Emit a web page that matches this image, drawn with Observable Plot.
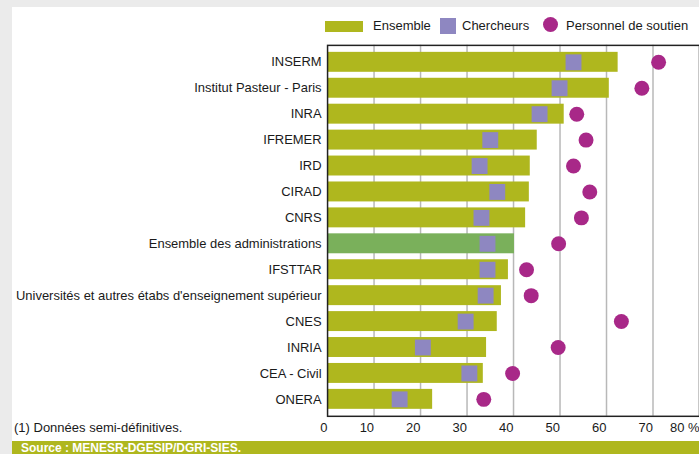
<!DOCTYPE html>
<html>
<head>
<meta charset="utf-8">
<script src="https://cdn.jsdelivr.net/npm/d3@7"></script>
<script src="https://cdn.jsdelivr.net/npm/@observablehq/plot@0.6"></script>
<style>
  html, body { margin: 0; padding: 0; }
  body { width: 699px; height: 454px; overflow: hidden; background: #ebebeb; position: relative;
         font-family: "Liberation Sans", Arial, sans-serif; color: #1a1a1a; }
  #panel { position: absolute; left: 12px; top: 7px; right: 0; bottom: 0; background: #fff; }
  #chart { position: absolute; left: 0; top: 0; }
  #chart svg { background: transparent; overflow: visible; }
  .lg { position: absolute; font-size: 13px; line-height: 16px; top: 18px; white-space: nowrap; }
  .sw { position: absolute; }
  #note { position: absolute; left: 14px; top: 420px; font-size: 13px; line-height: 16px; }
  #source { position: absolute; left: 12px; right: 0; top: 441px; height: 13px; background: #afb71e;
            color: #fff; font-weight: bold; font-size: 12px; line-height: 15px; padding-left: 9px; white-space: nowrap; }
</style>
</head>
<body>
<div id="panel"></div>
<div id="chart"></div>
<div class="sw" style="left:325px;top:21px;width:38px;height:11px;background:#afb71e"></div>
<div class="lg" style="left:373px">Ensemble</div>
<div class="sw" style="left:440px;top:18px;width:16px;height:16px;background:#8e87c1"></div>
<div class="lg" style="left:462px">Chercheurs</div>
<div class="sw" style="left:543px;top:17px;width:15px;height:15px;border-radius:50%;background:#a82888"></div>
<div class="lg" style="left:566px">Personnel de soutien</div>
<div id="note">(1) Données semi-définitives.</div>
<div id="source">Source : MENESR-DGESIP/DGRI-SIES.</div>
<script>
const names = ["INSERM", "Institut Pasteur - Paris", "INRA", "IFREMER", "IRD", "CIRAD", "CNRS",
  "Ensemble des administrations", "IFSTTAR", "Universités et autres étabs d'enseignement supérieur",
  "CNES", "INRIA", "CEA - Civil", "ONERA"];
const ensemble   = [62.5, 60.6, 50.9, 45.1, 43.6, 43.4, 42.6, 40.2, 38.9, 37.4, 36.5, 34.2, 33.5, 22.6];
const chercheurs = [52.9, 49.9, 45.6, 35.0, 32.7, 36.5, 33.1, 34.4, 34.4, 34.0, 29.7, 20.5, 30.5, 15.5];
const soutien    = [71.2, 67.6, 53.6, 55.6, 52.9, 56.4, 54.6, 49.7, 42.8, 43.8, 63.2, 49.6, 39.8, 33.6];
const xTicks = [0, 10, 20, 30, 40, 50, 60, 70, 80];
const gridTicks = [10, 20, 30, 40, 50, 60, 70];
const highlight = "Ensemble des administrations";

const data = names.map((n, i) => ({name: n, ensemble: ensemble[i], chercheurs: chercheurs[i], soutien: soutien[i]}));

const chart = Plot.plot({
  width: 701,
  height: 454,
  marginLeft: 328,
  marginRight: 0,
  marginTop: 45,
  marginBottom: 37,
  style: {fontFamily: "Liberation Sans, Arial, sans-serif", fontSize: "13px", color: "#1a1a1a", background: "transparent"},
  x: {domain: [0, 80]},
  y: {domain: names, paddingInner: 0.25, paddingOuter: 0.125},
  color: {type: "identity"},
  marks: [
    Plot.ruleX(gridTicks, {stroke: "#b8b8b8", strokeWidth: 1.5}),
    Plot.barX(data, {x: "ensemble", y: "name", fill: d => d.name === highlight ? "#7ab05b" : "#afb71e"}),
    Plot.dot(data, {x: "chercheurs", y: "name", symbol: "square", r: 9, fill: "#8e87c1", stroke: null}),
    Plot.dot(data, {x: "soutien", y: "name", r: 7.5, fill: "#a82888", stroke: null}),
    Plot.frame({stroke: "#222", strokeWidth: 1.5}),
    Plot.axisY({tickSize: 0, tickPadding: 6, fontSize: 13, label: null}),
    Plot.axisX({ticks: xTicks, tickSize: 0, tickPadding: 6, fontSize: 13, textAnchor: "end", label: null,
                tickFormat: d => d === 80 ? "80 %" : String(d)})
  ]
});
document.getElementById("chart").appendChild(chart);
</script>
</body>
</html>
